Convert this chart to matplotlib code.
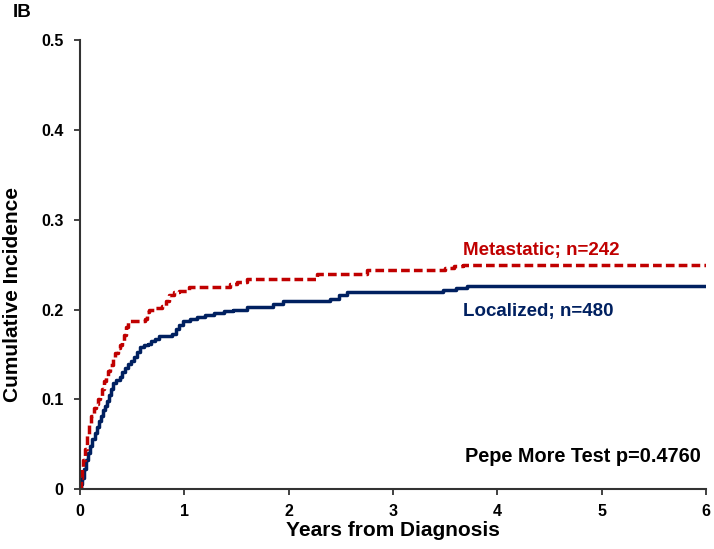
import matplotlib
matplotlib.use("Agg")
import matplotlib.pyplot as plt

plt.rcParams["font.family"] = ["Liberation Sans", "DejaVu Sans"]
plt.rcParams["font.weight"] = "bold"

# --- data (years, cumulative incidence) ---
met_years = [0, 0.01, 0.02, 0.03, 0.05, 0.07, 0.09, 0.11, 0.13, 0.15, 0.17, 0.19,
             0.21, 0.23, 0.25, 0.27, 0.29, 0.32, 0.34, 0.36, 0.38, 0.40, 0.42, 0.44,
             0.46, 0.60, 0.62, 0.64, 0.66, 0.72, 0.79, 0.82, 0.85, 0.90, 0.95, 1.04,
             1.37, 1.44, 1.50, 1.60, 2.22, 2.27, 2.70, 2.75, 3.42, 3.50, 3.58, 3.67, 6.0]
met_inc = [0, 0.012, 0.025, 0.032, 0.045, 0.060, 0.072, 0.082, 0.090, 0.095, 0.100, 0.104,
           0.112, 0.120, 0.125, 0.132, 0.138, 0.146, 0.152, 0.157, 0.160, 0.165, 0.172, 0.180,
           0.187, 0.187, 0.190, 0.197, 0.200, 0.202, 0.204, 0.210, 0.216, 0.219, 0.221, 0.225,
           0.225, 0.228, 0.231, 0.234, 0.234, 0.239, 0.239, 0.244, 0.244, 0.246, 0.248, 0.250, 0.250]

loc_years = [0, 0.01, 0.02, 0.04, 0.06, 0.08, 0.10, 0.12, 0.14, 0.16, 0.18, 0.20,
             0.22, 0.24, 0.26, 0.28, 0.30, 0.32, 0.35, 0.38, 0.40, 0.43, 0.46, 0.49,
             0.52, 0.55, 0.58, 0.61, 0.65, 0.68, 0.72, 0.76, 0.82, 0.88, 0.92, 0.95,
             0.99, 1.05, 1.12, 1.20, 1.28, 1.38, 1.47, 1.60, 1.85, 1.95, 2.33, 2.40,
             2.48, 2.56, 3.45, 3.48, 3.60, 3.71, 6.0]
loc_inc = [0, 0.006, 0.012, 0.022, 0.032, 0.040, 0.048, 0.056, 0.063, 0.069, 0.076, 0.082,
           0.088, 0.093, 0.098, 0.105, 0.112, 0.118, 0.122, 0.125, 0.130, 0.135, 0.139, 0.143,
           0.147, 0.153, 0.158, 0.161, 0.162, 0.165, 0.167, 0.170, 0.171, 0.173, 0.178, 0.183,
           0.187, 0.190, 0.192, 0.194, 0.196, 0.198, 0.200, 0.203, 0.206, 0.209, 0.209, 0.212,
           0.216, 0.220, 0.220, 0.222, 0.224, 0.226, 0.226]

RED = "#C00000"
NAVY = "#002060"

fig = plt.figure(figsize=(7.14, 5.49), dpi=100)
ax = fig.add_axes([0.112, 0.109, 0.877, 0.818])

ax.step(loc_years, loc_inc, where="post", color=NAVY, lw=2.5)
ax.step(met_years, met_inc, where="post", color=RED, lw=2.5, ls=(0, (2.5, 1.2)))

ax.set_xlim(0, 6)
ax.set_ylim(0, 0.5)
ax.set_xticks(range(0, 7))
ax.set_yticks([0, 0.1, 0.2, 0.3, 0.4, 0.5])
ax.set_yticklabels(["0", "0.1", "0.2", "0.3", "0.4", "0.5"])
ax.tick_params(labelsize=11.5, width=1.3, length=4, direction="out", color="#333333")
ax.tick_params(axis="y", pad=8)
ax.tick_params(axis="x", pad=7)
for s in ("top", "right"):
    ax.spines[s].set_visible(False)
for s in ("left", "bottom"):
    ax.spines[s].set_linewidth(1.5)
    ax.spines[s].set_color("#333333")

ax.set_xlabel("Years from Diagnosis", fontsize=15, fontweight="bold", labelpad=1)
fig.text(0.0175, 0.463, "Cumulative Incidence", fontsize=15, fontweight="bold",
         rotation=90, ha="center", va="center")

ax.text(3.67, 0.2606, "Metastatic; n=242", color=RED, fontsize=13.5, fontweight="bold")
ax.text(3.67, 0.1927, "Localized; n=480", color=NAVY, fontsize=13.5, fontweight="bold")
ax.text(3.69, 0.030, "Pepe More Test p=0.4760", color="black", fontsize=14.3, fontweight="bold")
fig.text(0.018, 0.978, "IB", fontsize=13.5, fontweight="bold", va="center")

fig.savefig("out.png", dpi=100)
